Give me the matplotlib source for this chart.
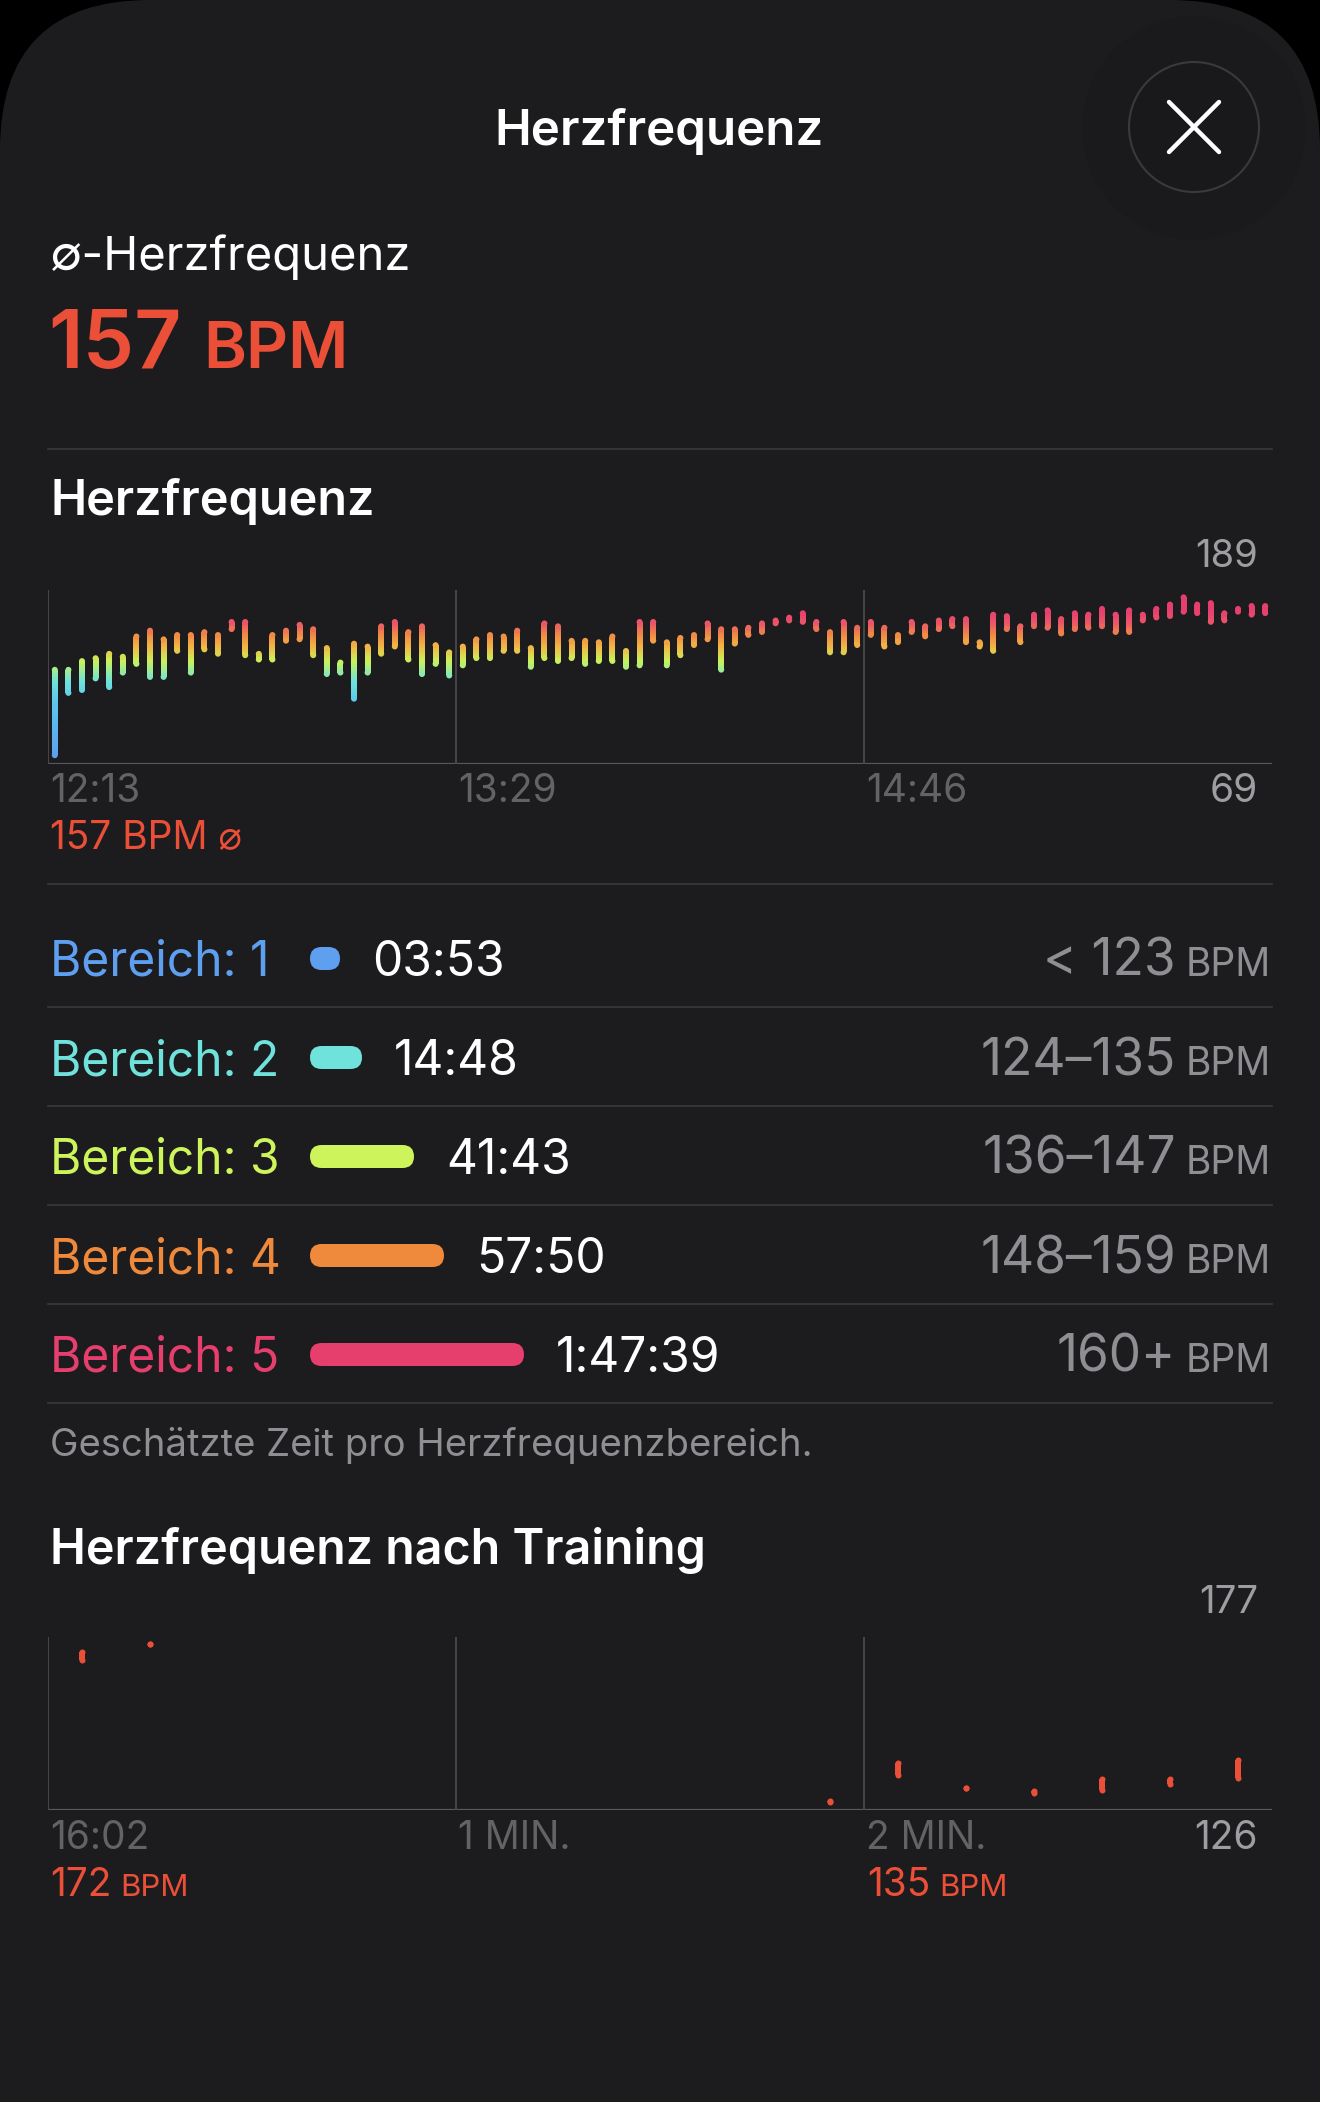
import numpy as np
import matplotlib
matplotlib.use("Agg")
import matplotlib.pyplot as plt
from matplotlib.collections import LineCollection
from matplotlib.colors import LinearSegmentedColormap, Normalize
from matplotlib.patches import FancyBboxPatch, Circle

# ---------------- data ----------------
hr_hi = [136,136,142,144,147,145,159,163,157,160,
         160,162,160,169,169,147,160,163,167,164,
         151,141,154,152,166,169,162,166,153,148,
         152,157,160,159,163,151,168,166,156,156,
         155,159,149,169,169,155,158,160,168,164,
         164,165,168,170,172,175,169,162,169,165,
         169,165,160,169,166,170,171,171,155,174,
         173,166,174,177,171,175,174,178,174,177,
         174,178,181,186,181,182,175,178,180,180]
hr_lo = [73,116,118,126,120,130,136,127,127,145,
         130,146,143,160,142,139,139,152,153,142,
         129,130,112,130,143,148,139,129,136,128,
         135,140,140,145,145,134,140,138,140,136,
         138,138,134,135,152,135,142,149,153,132,
         150,156,158,164,166,165,160,144,144,149,
         156,148,151,158,155,160,162,151,148,145,
         160,151,162,161,157,160,161,162,158,158,
         166,168,169,172,171,165,166,172,170,171]
hr_time_labels = ["12:13", "13:29", "14:46"]
hr_min, hr_max = 69, 189
hr_avg = 157

zone_names = ["Bereich: 1", "Bereich: 2", "Bereich: 3", "Bereich: 4", "Bereich: 5"]
zone_times = ["03:53", "14:48", "41:43", "57:50", "1:47:39"]
zone_ranges = ["< 123", "124\u2013135", "136\u2013147", "148\u2013159", "160+"]
zone_colors = ["#5f9ff0", "#6fe2dc", "#cdf45a", "#ef8a3c", "#e63e6d"]

post_t  = [5, 15, 115, 125, 135, 145, 155, 165, 175]
post_hi = [173.5, 175.6, 129.5, 140.7, 133.3, 132.4, 136.1, 136.1, 141.7]
post_lo = [169.4, 174.1, 127.5, 135.4, 131.9, 130.1, 131.0, 132.8, 134.5]
post_labels = ["16:02", "1 MIN.", "2 MIN."]
post_min, post_max = 126, 177
post_start_bpm, post_end_bpm = 172, 135

# ---------------- style ----------------
BG = "#1c1c1e"
RED = "#eb4f38"
GRAY = "#8e8e93"
DIM = "#636366"
LIGHT = "#9d9da2"
SEP = "#3a3a3c"
FONT = ["Inter", "DejaVu Sans"]
plt.rcParams["font.family"] = FONT

W, H = 1320, 2102
fig = plt.figure(figsize=(W / 100, H / 100), dpi=100)
fig.patch.set_facecolor("black")

bg = fig.add_axes([0, 0, 1, 1])
bg.set_xlim(0, W)
bg.set_ylim(H, 0)
bg.axis("off")
bg.set_zorder(0)

card = FancyBboxPatch((0, 0), W, H + 300, boxstyle="round,pad=0,rounding_size=150",
                      facecolor=BG, edgecolor="none")
bg.add_patch(card)

def txt(x, y, s, size, color="white", weight="normal", ha="left", **kw):
    return bg.text(x, y, s, fontsize=size, color=color, fontweight=weight, ha=ha,
                   va="baseline", **kw)

renderer = fig.canvas.get_renderer()

def width_of(t):
    return t.get_window_extent(renderer).width

# header
bg.add_patch(Circle((1194, 128), 112, facecolor="#1a1a1c", edgecolor="none"))
bg.add_patch(Circle((1194, 127), 65, facecolor="#19191b", edgecolor="#3a3a3c", linewidth=1.5))
bg.plot([1169, 1219], [102, 152], color="white", lw=3.2, solid_capstyle="round")
bg.plot([1169, 1219], [152, 102], color="white", lw=3.2, solid_capstyle="round")
txt(659, 145, "Herzfrequenz", 35.5, weight="semibold", ha="center")

txt(50, 270, "\u2205-Herzfrequenz", 34)
t157 = txt(48, 368, f"{hr_avg}", 59, color=RED, weight="semibold")
txt(48 + width_of(t157) + 22, 368, "BPM", 47, color=RED, weight="semibold")

bg.plot([48, 1272], [449, 449], color=SEP, lw=1.2)
txt(50, 515, "Herzfrequenz", 35, weight="semibold")

# ---------------- main heart-rate chart ----------------
ax = fig.add_axes([48 / W, 1 - 764 / H, 1224 / W, 174 / H])
ax.set_zorder(2)
ax.patch.set_alpha(0)
n = len(hr_hi)
ax.set_xlim(0, n)
ax.set_ylim(hr_min, hr_max)
for s in ax.spines.values():
    s.set_visible(False)
ax.set_xticks([])
ax.set_yticks([])
ax.axhline(hr_min, color="#58585c", lw=1.6, zorder=1)
for gx in (0, n / 3, 2 * n / 3):
    ax.axvline(gx, color="#4a4a4d", lw=1.3, zorder=1)

cmap = LinearSegmentedColormap.from_list("hr", [
    (0.00, "#5a9cf2"), ((112 - 69) / 120, "#5ec8ec"), ((126 - 69) / 120, "#6ee3dc"),
    ((140 - 69) / 120, "#c9f25a"), ((150 - 69) / 120, "#f2b545"), ((158 - 69) / 120, "#f08a45"),
    ((166 - 69) / 120, "#ea5868"), ((174 - 69) / 120, "#e6406e"), (1.00, "#e63c70")])
norm = Normalize(hr_min, hr_max)

bar_px = 6.0
lw_pt = bar_px * 72 / 100
cap_val = (bar_px / 2) / 174 * (hr_max - hr_min)
segs, cols, cap_x, cap_y = [], [], [], []
for i, (lo, hi) in enumerate(zip(hr_lo, hr_hi)):
    x = i + 0.5
    a, b = lo + cap_val, hi - cap_val
    if b <= a:
        m = (lo + hi) / 2
        a, b = m - 0.05, m + 0.05
    edges = np.linspace(a, b, 25)
    for y0, y1 in zip(edges[:-1], edges[1:]):
        segs.append([(x, y0), (x, y1)])
        cols.append(cmap(norm((y0 + y1) / 2)))
    cap_x += [x, x]
    cap_y += [a, b]
lc = LineCollection(segs, colors=cols, linewidths=lw_pt, capstyle="butt", zorder=3)
ax.add_collection(lc)
ax.scatter(cap_x, cap_y, s=lw_pt ** 2, c=[cmap(norm(v)) for v in cap_y],
           marker="o", linewidths=0, zorder=3)

# labels of main chart
txt(1258, 567, f"{hr_max}", 27.5, color=LIGHT, ha="right")
for k, lab in enumerate(hr_time_labels):
    txt(50 + k * 408, 802, lab, 28, color=DIM)
txt(1258, 802, f"{hr_min}", 28, color=LIGHT, ha="right")
txt(50, 848, f"{hr_avg} BPM \u2300", 28, color=RED)

bg.plot([48, 1272], [884, 884], color=SEP, lw=1.2)

# ---------------- zones ----------------
pill_len = [30, 52, 104, 134, 214]
for i in range(5):
    base = 976 + 99 * i
    txt(50, base, zone_names[i], 34.5, color=zone_colors[i])
    pw = pill_len[i]
    bg.add_patch(FancyBboxPatch((310, base - 29), pw, 23,
                                boxstyle="round,pad=0,rounding_size=11.5",
                                facecolor=zone_colors[i], edgecolor="none"))
    txt(310 + pw + 32, base, zone_times[i], 34.5, color="white")
    tb = txt(1271, base, "BPM", 28, color=GRAY, ha="right")
    txt(1271 - width_of(tb) - 10, base, zone_ranges[i], 37, color=GRAY, ha="right")
    bg.plot([48, 1272], [base + 31, base + 31], color=SEP, lw=1.2)

txt(50, 1456, "Gesch\u00e4tzte Zeit pro Herzfrequenzbereich.", 27.5, color=GRAY)

# ---------------- post-workout chart ----------------
txt(50, 1564, "Herzfrequenz nach Training", 34.8, weight="semibold")

ax2 = fig.add_axes([48 / W, 1 - 1810 / H, 1224 / W, 173 / H])
ax2.set_zorder(2)
ax2.patch.set_alpha(0)
ax2.set_xlim(0, 180)
ax2.set_ylim(post_min, post_max)
for s in ax2.spines.values():
    s.set_visible(False)
ax2.set_xticks([])
ax2.set_yticks([])
ax2.axhline(post_min, color="#58585c", lw=1.6, zorder=1)
for gx in (0, 60, 120):
    ax2.axvline(gx, color="#4a4a4d", lw=1.3, zorder=1)
cap2 = 3 / 173 * (post_max - post_min)
segs2, ends_x, ends_y = [], [], []
for t, lo, hi in zip(post_t, post_lo, post_hi):
    a, b = lo + cap2, hi - cap2
    if b <= a:
        m = (lo + hi) / 2
        a, b = m, m
    segs2.append([(t, a), (t, b)])
    ends_x += [t, t]
    ends_y += [a, b]
ax2.add_collection(LineCollection(segs2, colors=RED, linewidths=lw_pt, capstyle="butt", zorder=3))
ax2.scatter(ends_x, ends_y, s=lw_pt ** 2, color=RED, marker="o", linewidths=0, zorder=3)

txt(1258, 1613, f"{post_max}", 27.5, color=LIGHT, ha="right")
for k, lab in enumerate(post_labels):
    txt(50 + k * 408, 1849, lab, 28, color=DIM)
txt(1258, 1849, f"{post_min}", 28, color=LIGHT, ha="right")
for xx, v in ((50, post_start_bpm), (867, post_end_bpm)):
    tn = txt(xx, 1896, f"{v}", 28, color=RED)
    txt(xx + width_of(tn) + 9, 1896, "BPM", 22.5, color=RED)

fig.savefig("out.png", dpi=100, facecolor=fig.get_facecolor())
